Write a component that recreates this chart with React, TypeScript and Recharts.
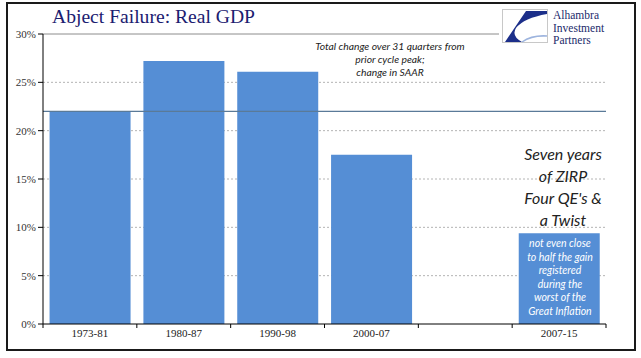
import React from "react";
import { BarChart, Bar, XAxis, YAxis, CartesianGrid, ReferenceLine } from "recharts";

const categories = ["1973-81", "1980-87", "1990-98", "2000-07", "", "2007-15"];
const gdpChange = [22.0, 27.2, 26.1, 17.5, null, 9.4];
const yTicks = [0, 5, 10, 15, 20, 25, 30];
const innerGridValues = [5, 10, 15, 20, 25];
const benchmark = 22.0;

const data = categories.map((c, i) => ({ period: c, value: gdpChange[i] }));

const W = 641;
const H = 358;
const PLOT_LEFT = 43;
const PLOT_RIGHT = 606;
const BAND = (PLOT_RIGHT - PLOT_LEFT) / categories.length;

const XTick = (props: any) => {
  const { x, y, payload, index } = props;
  return (
    <g>
      <line x1={x - BAND / 2} x2={x - BAND / 2} y1={y} y2={y + 4} stroke="#000" />
      {index === categories.length - 1 && (
        <line x1={x + BAND / 2} x2={x + BAND / 2} y1={y} y2={y + 4} stroke="#000" />
      )}
      <text x={x} y={y + 13} textAnchor="middle" fontFamily="Liberation Serif" fontSize={11} fill="#222">
        {payload.value}
      </text>
    </g>
  );
};

const italic: React.CSSProperties = {
  position: "absolute",
  fontFamily: "Lato, 'Open Sans', sans-serif",
  fontStyle: "italic",
  textAlign: "center",
  color: "#222",
  whiteSpace: "nowrap",
};

export default function App() {
  return (
    <div style={{ position: "absolute", left: 0, top: 0, width: W, height: H, background: "#fff" }}>
      <BarChart
        width={W}
        height={H}
        data={data}
        margin={{ top: 34, right: 35, bottom: 0, left: 0 }}
        barCategoryGap="7%"
      >
        <CartesianGrid
          vertical={false}
          stroke="#b4b4b4"
          strokeDasharray="2 2"
          horizontalValues={innerGridValues}
          yAxisId="left"
        />
        <XAxis
          dataKey="period"
          height={34}
          tickLine={false}
          tickSize={0}
          tickMargin={0}
          axisLine={{ stroke: "#000" }}
          tick={<XTick />}
          interval={0}
        />
        <YAxis
          yAxisId="left"
          width={43}
          domain={[0, 30]}
          ticks={yTicks}
          tickFormatter={(v: number) => `${v}%`}
          tickSize={5}
          axisLine={{ stroke: "#000" }}
          tickLine={{ stroke: "#000" }}
          tick={{ fontFamily: "Liberation Serif", fontSize: 11, fill: "#333" }}
        />
        <YAxis
          yAxisId="right"
          orientation="right"
          width={0}
          domain={[0, 30]}
          tick={false}
          tickLine={false}
          axisLine={{ stroke: "#8c8c8c" }}
        />
        <Bar dataKey="value" yAxisId="left" fill="#558ed5" isAnimationActive={false} />
        <ReferenceLine y={30} yAxisId="left" stroke="#8c8c8c" ifOverflow="visible" />
        <ReferenceLine y={benchmark} yAxisId="left" stroke="#5a7a98" strokeWidth={1.2} />
      </BarChart>

      {/* frame */}
      <div
        style={{
          position: "absolute",
          left: 6,
          top: 2,
          width: 626,
          height: 345,
          border: "2px solid #1a1a1a",
          pointerEvents: "none",
        }}
      />

      {/* title */}
      <div
        style={{
          position: "absolute",
          left: 52,
          top: 5,
          fontFamily: "'Liberation Serif', serif",
          fontSize: 19.6,
          lineHeight: "24px",
          color: "#1b2070",
          whiteSpace: "nowrap",
        }}
      >
        Abject Failure: Real GDP
      </div>

      {/* logo */}
      <div style={{ position: "absolute", left: 499, top: 6, width: 117, height: 42, background: "#fff" }}>
        <svg width={47} height={35} style={{ position: "absolute", left: 3, top: 3 }}>
          <rect x={0.5} y={0.5} width={45} height={33} fill="#fff" stroke="#c8c8c8" />
          <path d="M 24 2 L 45 2 L 45 5 Q 22 9 14 19 Q 9 27 20 33 L 3 33 Z" fill="#1c2f8a" />
          <path d="M 20 33 Q 30 26 45 27" fill="none" stroke="#9db4de" strokeWidth={1.5} />
        </svg>
        <div
          style={{
            position: "absolute",
            left: 54,
            top: 3,
            fontFamily: "'Liberation Serif', serif",
            fontSize: 11.5,
            lineHeight: "12.5px",
            color: "#1b2a6b",
            whiteSpace: "nowrap",
          }}
        >
          Alhambra
          <br />
          Investment
          <br />
          Partners
        </div>
      </div>

      {/* annotations */}
      <div style={{ ...italic, left: 290, width: 200, top: 40, fontSize: 10.3, lineHeight: "13px" }}>
        Total change over 31 quarters from
        <br />
        prior cycle peak;
        <br />
        change in SAAR
      </div>
      <div style={{ ...italic, left: 503, width: 120, top: 143, fontSize: 16, lineHeight: "22px" }}>
        Seven years
        <br />
        of ZIRP
        <br />
        Four QE's &amp;
        <br />
        a Twist
      </div>
      <div
        style={{ ...italic, left: 510, width: 100, top: 237, fontSize: 10.5, lineHeight: "13.6px", color: "#fff" }}
      >
        not even close
        <br />
        to half the gain
        <br />
        registered
        <br />
        during the
        <br />
        worst of the
        <br />
        Great Inflation
      </div>
    </div>
  );
}
